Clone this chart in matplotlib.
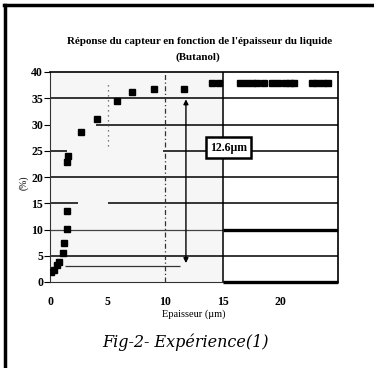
import matplotlib
matplotlib.use("Agg")
import matplotlib.pyplot as plt
from matplotlib.lines import Line2D

# ── Data ──────────────────────────────────────────────────────────────────
epaisseur = [0.1, 0.35, 0.6, 0.8, 1.1, 1.2, 1.45, 1.5, 1.5, 1.55,
             2.7, 4.1, 5.8, 7.1, 9.0, 11.6,
             14.1, 14.7, 16.5, 17.0, 17.5, 18.0, 18.6, 19.3, 19.8,
             20.4, 20.8, 21.2, 22.7, 23.2, 23.7, 24.1]
reponse = [2.0, 2.3, 3.3, 3.8, 5.5, 7.4, 10.1, 13.5, 22.8, 24.0,
           28.6, 31.0, 34.5, 36.2, 36.7, 36.7,
           37.9, 37.9, 37.9, 37.9, 37.9, 37.9, 37.9, 37.9, 37.9,
           37.9, 37.9, 37.9, 37.9, 37.9, 37.9, 37.9]
y_ticks = [0, 5, 10, 15, 20, 25, 30, 35, 40]
x_ticks = [0, 5, 10, 15, 20]
annot_text = "12.6µm"

SERIF = ["Liberation Serif", "DejaVu Serif"]

fig = plt.figure(figsize=(3.74, 3.68), dpi=100)
fig.patch.set_facecolor("white")
ax = fig.add_axes([50 / 374, 1 - 282 / 368, 288 / 374, 210 / 368])

ax.set_xlim(0, 25)
ax.set_ylim(0, 40)
ax.axvspan(0, 15, color="#f6f6f6", zorder=0)

# ── horizontal guide lines (segments as drawn in the scan) ───────────────
k = dict(color="black", lw=1.1, zorder=1)
ax.hlines(35, 0, 25, **k)
ax.hlines(30, 4.0, 25, **k)
ax.hlines(25, 0, 1.5, **k)
ax.hlines(25, 9.8, 25, **k)
ax.hlines(20, 0, 25, **k)
ax.hlines(15, 0, 2.4, **k)
ax.hlines(15, 5.0, 25, **k)
ax.hlines(10, 0, 15, color="#444444", lw=0.9, zorder=1)
ax.hlines(10, 15, 25, color="black", lw=2.4, zorder=1)
ax.hlines(5, 0, 25, **k)
ax.hlines(3, 1.3, 11.3, color="#333333", lw=0.9, zorder=1)
ax.hlines(0, 15, 25, color="black", lw=2.4, zorder=3, clip_on=False)

# vertical guides
ax.vlines(15, 0, 40, color="black", lw=1.1, zorder=1)
ax.vlines(10, 0, 40, color="#333333", lw=0.9, linestyles=(0, (4, 2, 1, 2)), zorder=1)
ax.vlines(5, 26, 38, color="#555555", lw=0.9, linestyles=(0, (1, 3)), zorder=1)

# double arrow
ax.annotate("", xy=(11.8, 34.8), xytext=(11.8, 3.6),
            arrowprops=dict(arrowstyle="<|-|>", color="black", lw=1.0,
                            mutation_scale=7, shrinkA=0, shrinkB=0))

# label box
ax.text(15.5, 25.6, annot_text, ha="center", va="center", fontsize=8.5,
        fontweight="bold", family=SERIF, zorder=5,
        bbox=dict(boxstyle="square,pad=0.35", facecolor="white",
                  edgecolor="black", linewidth=1.8))

# data
ax.plot(epaisseur, reponse, "s", color="black", markersize=5, zorder=4)

# ── axes styling ──────────────────────────────────────────────────────────
for s in ("top", "right"):
    ax.spines[s].set_linewidth(1.2)
ax.spines["left"].set_linewidth(0.8)
ax.spines["left"].set_color("#333333")
ax.spines["bottom"].set_linewidth(0.8)
ax.spines["bottom"].set_color("#333333")

ax.set_yticks(y_ticks)
ax.set_xticks(x_ticks)
ax.tick_params(axis="y", direction="out", length=4, width=0.8, pad=1, labelsize=8.5)
ax.tick_params(axis="x", length=0, pad=10, labelsize=8.5)
for lab in ax.get_xticklabels() + ax.get_yticklabels():
    lab.set_family(SERIF)
    lab.set_fontweight("bold")

ax.set_xlabel("Epaisseur (µm)", fontsize=7.5, family=SERIF, labelpad=1)
fig.text(24 / 374, 1 - 183 / 368, "(%)", rotation=90, ha="center", va="center",
         fontsize=7, family=SERIF)

# title
fig.text(200 / 374, 1 - 42 / 368,
         "Réponse du capteur en fonction de l'épaisseur du liquide",
         ha="center", va="center", fontsize=7.9, fontweight="bold", family=SERIF)
fig.text(198 / 374, 1 - 57 / 368, "(Butanol)",
         ha="center", va="center", fontsize=7.9, fontweight="bold", family=SERIF)

# caption
fig.text(185 / 374, 1 - 342 / 368, "Fig-2- Expérience(1)",
         ha="center", va="center", fontsize=11.5, style="italic",
         family=["DejaVu Serif"])

# outer frame (top and left edges visible in the scan)
fig.add_artist(Line2D([4 / 374, 1.0], [1 - 5 / 368, 1 - 5 / 368],
                      transform=fig.transFigure, color="black", lw=2.5))
fig.add_artist(Line2D([5 / 374, 5 / 374], [0, 1 - 5 / 368],
                      transform=fig.transFigure, color="black", lw=2.5))

fig.savefig("out.png", dpi=100, facecolor="white")
